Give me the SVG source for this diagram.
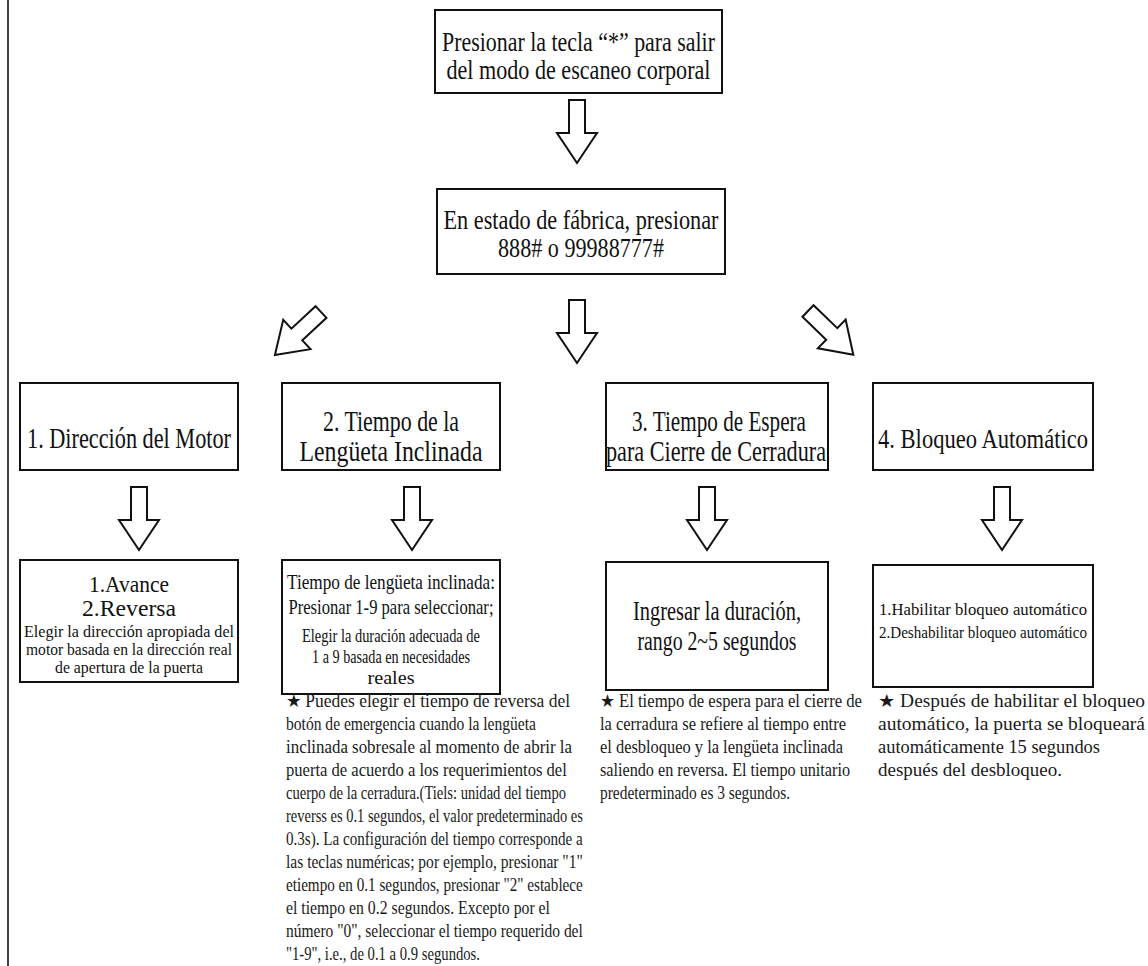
<svg xmlns="http://www.w3.org/2000/svg" width="1148" height="966" viewBox="0 0 1148 966">
<style>
.box{fill:#fff;stroke:#111;stroke-width:2}
.t{font-family:"Liberation Serif","Times New Roman",serif;fill:#111;text-anchor:middle}
.n{font-family:"Liberation Serif","Times New Roman",serif;fill:#1a1a1a;font-size:18px}
.arr{fill:#fff;stroke:#111;stroke-width:2}
</style>
<defs>
<path id="ar" class="arr" d="M-8,0 H8 V33 H20 L0,63 L-20,33 H-8 Z"/>
</defs>
<rect x="0" y="0" width="1148" height="966" fill="#fff"/>
<line x1="8" y1="0" x2="8" y2="966" stroke="#444" stroke-width="2"/>

<g id="connectors">
<use href="#ar" transform="translate(577,100)"/>
<use href="#ar" transform="translate(577,300)"/>
<use href="#ar" transform="translate(321,312) rotate(47)"/>
<use href="#ar" transform="translate(808,311) rotate(-46)"/>
<use href="#ar" transform="translate(139,487)"/>
<use href="#ar" transform="translate(412,487)"/>
<use href="#ar" transform="translate(707,487)"/>
<use href="#ar" transform="translate(1002,487)"/>
</g>

<g id="n-salir">
<rect class="box" x="435" y="10" width="287" height="83"/>
<text class="t" x="578.5" y="51" font-size="28" textLength="273" lengthAdjust="spacingAndGlyphs">Presionar la tecla “*” para salir</text>
<text class="t" x="578.5" y="79" font-size="28" textLength="264" lengthAdjust="spacingAndGlyphs">del modo de escaneo corporal</text>
</g>

<g id="n-fabrica">
<rect class="box" x="437" y="189" width="288" height="85"/>
<text class="t" x="581" y="229" font-size="28" textLength="275" lengthAdjust="spacingAndGlyphs">En estado de fábrica, presionar</text>
<text class="t" x="581" y="257" font-size="28" textLength="166" lengthAdjust="spacingAndGlyphs">888# o 99988777#</text>
</g>

<g id="n-motor">
<rect class="box" x="20" y="383" width="218" height="87"/>
<text class="t" x="129" y="448" font-size="30" textLength="204" lengthAdjust="spacingAndGlyphs">1. Dirección del Motor</text>
</g>

<g id="n-lengueta">
<rect class="box" x="282" y="383" width="218" height="87"/>
<text class="t" x="391" y="431" font-size="29" textLength="136" lengthAdjust="spacingAndGlyphs">2. Tiempo de la</text>
<text class="t" x="391" y="461" font-size="29" textLength="183" lengthAdjust="spacingAndGlyphs">Lengüeta Inclinada</text>
</g>

<g id="n-espera">
<rect class="box" x="606" y="383" width="222" height="87"/>
<text class="t" x="719" y="431" font-size="29" textLength="174" lengthAdjust="spacingAndGlyphs">3. Tiempo de Espera</text>
<text class="t" x="716" y="461" font-size="29" textLength="220" lengthAdjust="spacingAndGlyphs">para Cierre de Cerradura</text>
</g>

<g id="n-bloqueo">
<rect class="box" x="873" y="383" width="220" height="87"/>
<text class="t" x="983" y="448" font-size="28" textLength="210" lengthAdjust="spacingAndGlyphs">4. Bloqueo Automático</text>
</g>

<g id="n-avance">
<rect class="box" x="20" y="560" width="218" height="122"/>
<text class="t" x="129" y="592" font-size="23" textLength="80" lengthAdjust="spacingAndGlyphs">1.Avance</text>
<text class="t" x="129" y="616" font-size="23" textLength="94" lengthAdjust="spacingAndGlyphs">2.Reversa</text>
<text class="t" x="129" y="637" font-size="16" textLength="210" lengthAdjust="spacingAndGlyphs">Elegir la dirección apropiada del</text>
<text class="t" x="129" y="655" font-size="16" textLength="206" lengthAdjust="spacingAndGlyphs">motor basada en la dirección real</text>
<text class="t" x="129" y="673" font-size="16" textLength="148" lengthAdjust="spacingAndGlyphs">de apertura de la puerta</text>
</g>

<g id="n-tiempo-lengueta">
<rect class="box" x="282" y="560" width="218" height="134"/>
<text class="t" x="391" y="589" font-size="21" textLength="208" lengthAdjust="spacingAndGlyphs">Tiempo de lengüeta inclinada:</text>
<text class="t" x="391" y="614" font-size="21" textLength="205" lengthAdjust="spacingAndGlyphs">Presionar 1-9 para seleccionar;</text>
<text class="t" x="391" y="642" font-size="19.5" textLength="178" lengthAdjust="spacingAndGlyphs">Elegir la duración adecuada de</text>
<text class="t" x="391" y="663" font-size="19.5" textLength="158" lengthAdjust="spacingAndGlyphs">1 a 9 basada en necesidades</text>
<text class="t" x="391" y="684" font-size="19.5" textLength="47" lengthAdjust="spacingAndGlyphs">reales</text>
</g>

<g id="n-duracion">
<rect class="box" x="606" y="562" width="222" height="128"/>
<text class="t" x="717" y="620" font-size="27" textLength="168" lengthAdjust="spacingAndGlyphs">Ingresar la duración,</text>
<text class="t" x="717" y="650" font-size="27" textLength="159" lengthAdjust="spacingAndGlyphs">rango 2~5 segundos</text>
</g>

<g id="n-habilitar">
<rect class="box" x="873" y="565" width="220" height="122"/>
<text class="t" x="983" y="615" font-size="17" textLength="208" lengthAdjust="spacingAndGlyphs">1.Habilitar bloqueo automático</text>
<text class="t" x="983" y="638" font-size="17" textLength="208" lengthAdjust="spacingAndGlyphs">2.Deshabilitar bloqueo automático</text>
</g>

<g id="note-lengueta" transform="translate(286 0) scale(0.8 1)">
<text class="n" x="0" y="707" textLength="355" lengthAdjust="spacingAndGlyphs">★ Puedes elegir el tiempo de reversa del</text>
<text class="n" x="0" y="730" textLength="312.5" lengthAdjust="spacingAndGlyphs">botón de emergencia cuando la lengüeta</text>
<text class="n" x="0" y="753" textLength="357.5" lengthAdjust="spacingAndGlyphs">inclinada sobresale al momento de abrir la</text>
<text class="n" x="0" y="776" textLength="351" lengthAdjust="spacingAndGlyphs">puerta de acuerdo a los requerimientos del</text>
<text class="n" x="0" y="799" textLength="350" lengthAdjust="spacingAndGlyphs">cuerpo de la cerradura.(Tiels: unidad del tiempo</text>
<text class="n" x="0" y="822" textLength="371" lengthAdjust="spacingAndGlyphs">reverss es 0.1 segundos, el valor predeterminado es</text>
<text class="n" x="0" y="845" textLength="371" lengthAdjust="spacingAndGlyphs">0.3s). La configuración del tiempo corresponde a</text>
<text class="n" x="0" y="868" textLength="371" lengthAdjust="spacingAndGlyphs">las teclas numéricas; por ejemplo, presionar "1"</text>
<text class="n" x="0" y="891" textLength="371" lengthAdjust="spacingAndGlyphs">etiempo en 0.1 segundos, presionar "2" establece</text>
<text class="n" x="0" y="914" textLength="330" lengthAdjust="spacingAndGlyphs">el tiempo en 0.2 segundos. Excepto por el</text>
<text class="n" x="0" y="937" textLength="371" lengthAdjust="spacingAndGlyphs">número "0", seleccionar el tiempo requerido del</text>
<text class="n" x="0" y="960" textLength="242.5" lengthAdjust="spacingAndGlyphs">"1-9", i.e., de 0.1 a 0.9 segundos.</text>
</g>

<g id="note-espera">
<text class="n" x="600" y="707" textLength="262" lengthAdjust="spacingAndGlyphs">★ El tiempo de espera para el cierre de</text>
<text class="n" x="600" y="730" textLength="246" lengthAdjust="spacingAndGlyphs">la cerradura se refiere al tiempo entre</text>
<text class="n" x="600" y="753" textLength="243" lengthAdjust="spacingAndGlyphs">el desbloqueo y la lengüeta inclinada</text>
<text class="n" x="600" y="776" textLength="250" lengthAdjust="spacingAndGlyphs">saliendo en reversa. El tiempo unitario</text>
<text class="n" x="600" y="799" textLength="190" lengthAdjust="spacingAndGlyphs">predeterminado es 3 segundos.</text>
</g>

<g id="note-bloqueo">
<text class="n" x="878" y="707" textLength="267" lengthAdjust="spacingAndGlyphs">★ Después de habilitar el bloqueo</text>
<text class="n" x="878" y="730" textLength="267" lengthAdjust="spacingAndGlyphs">automático, la puerta se bloqueará</text>
<text class="n" x="878" y="753" textLength="222" lengthAdjust="spacingAndGlyphs">automáticamente 15 segundos</text>
<text class="n" x="878" y="776" textLength="184" lengthAdjust="spacingAndGlyphs">después del desbloqueo.</text>
</g>
</svg>
